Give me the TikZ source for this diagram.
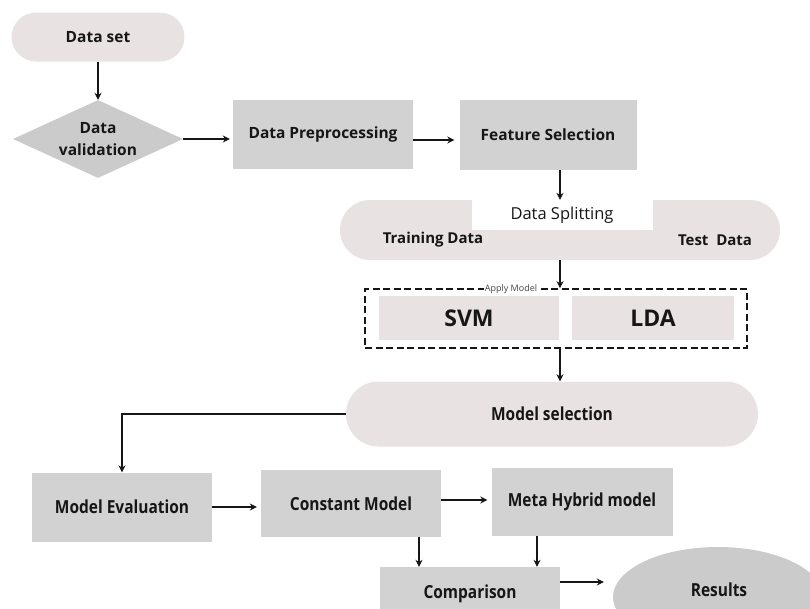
\documentclass[tikz,border=0pt]{standalone}
\usepackage{fontspec}
\setmainfont{Open Sans}
\newfontfamily\narrowfont[FakeStretch=0.86]{Open Sans}
\usetikzlibrary{arrows.meta,shapes.misc,shapes.geometric}
\definecolor{pinkgray}{HTML}{E8E3E2}
\definecolor{boxgray}{HTML}{D2D2D2}
\definecolor{diagray}{HTML}{CBCBCB}
\definecolor{inkblack}{HTML}{161616}
\tikzset{
  pill/.style={rounded rectangle,fill=pinkgray,inner sep=0pt},
  graybox/.style={rectangle,fill=boxgray,inner sep=0pt},
  lbl/.style={font=\bfseries\fontsize{15.5}{22}\selectfont,text=inkblack,align=center},
  narrowlbl/.style={font=\narrowfont\bfseries\fontsize{18}{20}\selectfont,text=inkblack},
  arr/.style={-{Stealth[length=7pt,width=7pt]},line width=1.4pt,inkblack}
}

\begin{document}
\begin{tikzpicture}[x=1pt,y=-1pt]
    \useasboundingbox (0,0) rectangle (810,608);
    \clip (0,0) rectangle (810,608);
    % upper part
    \node[pill,lbl,minimum width=173pt,minimum height=49pt] (dataset) at (98,37) {Data set};
    \node[diamond,aspect=2.2,fill=diagray,inner sep=0pt,lbl,minimum width=170pt,minimum height=78pt] (valid) at (98,139) {Data\\validation};
    \node[graybox,lbl,minimum width=180pt,minimum height=69pt] (prep) at (323,134) {Data Preprocessing};
    \node[graybox,lbl,minimum width=177pt,minimum height=70pt] (feat) at (548,135) {Feature Selection};
    % splitting
    \node[pill,minimum width=440pt,minimum height=60pt] (split) at (560,230) {};
    \node[fill=white,inner sep=0pt,minimum width=181pt,minimum height=30pt,
          font=\fontsize{16.5}{18}\selectfont,text=inkblack] (splitlbl) at (562,215) {Data Splitting};
    \node[lbl,font=\bfseries\fontsize{15}{17}\selectfont] (train) at (433,240) {Training Data};
    \node[lbl,font=\bfseries\fontsize{15}{17}\selectfont] (test) at (715,240) {Test\ \ Data};
    % models
    \node[draw=inkblack,dash pattern=on 7pt off 3.5pt,line width=1.6pt,minimum width=382pt,minimum height=59pt,inner sep=0pt] (apply) at (556,318.5) {};
    \node[fill=white,inner sep=1pt,font=\fontsize{9}{10}\selectfont,text=inkblack!80] (applylbl) at (511,289) {Apply Model};
    \node[graybox,fill=pinkgray,minimum width=180pt,minimum height=44pt,font=\bfseries\fontsize{23}{26}\selectfont,text=inkblack] (svm) at (469,318) {SVM};
    \node[graybox,fill=pinkgray,minimum width=162pt,minimum height=44pt,font=\bfseries\fontsize{23}{26}\selectfont,text=inkblack] (lda) at (653,318) {LDA};
    \node[pill,narrowlbl,minimum width=412pt,minimum height=65pt] (msel) at (552,414) {Model selection};
    % lower part
    \node[graybox,narrowlbl,minimum width=180pt,minimum height=69pt] (meval) at (122,507) {Model Evaluation};
    \node[graybox,narrowlbl,minimum width=180pt,minimum height=67pt] (const) at (351,503.5) {Constant Model};
    \node[graybox,narrowlbl,minimum width=181pt,minimum height=68pt] (meta) at (582,502) {Meta Hybrid model};
    \node[graybox,narrowlbl,minimum width=180pt,minimum height=53pt] (comp) at (470,593.5) {Comparison};
    \node[ellipse,fill=diagray,inner sep=0pt,minimum width=210pt,minimum height=100pt] (res) at (718,597) {};
    \node[narrowlbl] (reslbl) at (719,590) {Results};
    % connectors
    \draw[arr] (dataset.south) -- (valid.north);
    \draw[arr,shorten >=3pt] (valid.east) -- (valid.east -| prep.west);
    \draw[arr,shorten >=5pt] ([yshift=-6pt]prep.east) -- ([yshift=-6pt]prep.east -| feat.west);
    \draw[arr] (feat.south -| split.north) -- (split.north);
    \draw[arr] (split.south) -- (apply.north -| split.south);
    \draw[arr] (apply.south -| split.south) -- (msel.north -| split.south);
    \draw[arr] (msel.west) -| (meval.north);
    \draw[arr,shorten >=4pt] (meval.east) -- (meval.east -| const.west);
    \draw[arr,shorten >=4pt] ([yshift=3.5pt]const.east) -- ([yshift=3.5pt]const.east -| meta.west);
    \draw[arr] ([xshift=68pt]const.south) -- ([xshift=68pt]const.south |- comp.north);
    \draw[arr] ([xshift=-45pt]meta.south) -- ([xshift=-45pt]meta.south |- comp.north);
    \draw[arr,shorten >=9pt] ([yshift=11.5pt]comp.east) -- ([yshift=11.5pt]comp.east -| res.west);
\end{tikzpicture}
\end{document}
